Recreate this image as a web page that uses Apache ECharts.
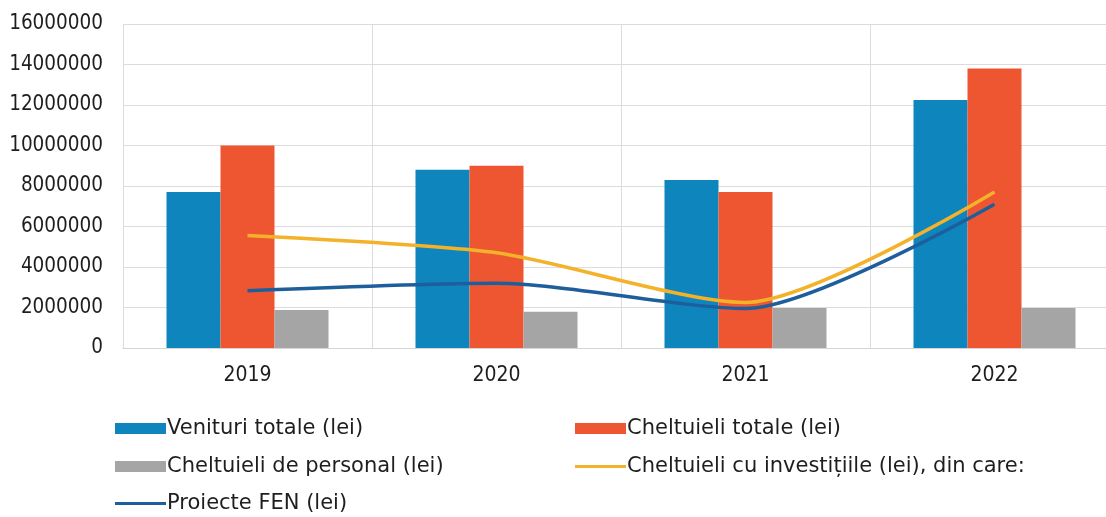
<!DOCTYPE html>
<html>
<head>
<meta charset="utf-8">
<script src="https://cdn.jsdelivr.net/npm/echarts@6/dist/echarts.min.js"></script>
<style>
  html, body { margin: 0; padding: 0; background: #fff; overflow: hidden; }
  /* the original plot runs a little past the right edge of the picture */
  #chart { width: 1120px; height: 517px; }
</style>
</head>
<body>
<div id="chart"></div>
<script>
var years = ['2019', '2020', '2021', '2022']
var venituri = [7700000, 8800000, 8300000, 12250000]
var cheltuieliTotale = [10000000, 9000000, 7700000, 13800000]
var cheltuieliPersonal = [1880000, 1790000, 1970000, 1970000]
var investitii = [5550000, 4700000, 2250000, 7700000]
var proiecteFEN = [2830000, 3200000, 1950000, 7100000]

var names = [
  'Venituri totale (lei)',
  'Cheltuieli totale (lei)',
  'Cheltuieli de personal (lei)',
  'Cheltuieli cu investițiile (lei), din care:',
  'Proiecte FEN (lei)'
]

var AXIS_FONT = 'DejaVu Sans Condensed'
var LEG_FONT = 'DejaVu Sans'
var TXT = '#1e1e1e'

// one legend per item, laid out in two columns like the original
function legendItem(name, left, top, isLine) {
  return {
    data: [name],
    left: left,
    top: top,
    icon: 'rect',
    itemWidth: 51,
    itemHeight: isLine ? 3 : 11,
    itemGap: 0,
    padding: 0,
    textStyle: { fontFamily: LEG_FONT, fontSize: 21, color: TXT, padding: [0, 0, 0, -4] }
  }
}

var chart = echarts.init(document.getElementById('chart'))
var option = {
  animation: false,
  backgroundColor: '#fff',
  grid: {
    left: 123,
    top: 24,
    width: 996,
    height: 324
  },
  legend: [
    legendItem(names[0], 115, 418, false),
    legendItem(names[1], 575, 418, false),
    legendItem(names[2], 115, 456, false),
    legendItem(names[3], 575, 456, true),
    legendItem(names[4], 115, 493, true)
  ],
  xAxis: {
    type: 'category',
    data: years,
    axisTick: { show: false },
    axisLine: { lineStyle: { color: '#d4d4d4' } },
    splitLine: { show: true, lineStyle: { color: '#dcdcdc' } },
    axisLabel: { fontFamily: AXIS_FONT, fontSize: 21, color: TXT, margin: 17 }
  },
  yAxis: {
    type: 'value',
    min: 0,
    max: 16000000,
    interval: 2000000,
    axisLine: { show: false },
    axisTick: { show: false },
    splitLine: { lineStyle: { color: '#dcdcdc' } },
    axisLabel: {
      fontFamily: AXIS_FONT,
      fontSize: 20.5,
      color: TXT,
      margin: 20,
      formatter: function(v) { return String(v) }
    }
  },
  series: [
    {
      name: names[0],
      type: 'bar',
      data: venituri,
      barWidth: 54,
      barGap: '0%',
      itemStyle: { color: '#0e86bd' }
    },
    {
      name: names[1],
      type: 'bar',
      data: cheltuieliTotale,
      barWidth: 54,
      barGap: '0%',
      itemStyle: { color: '#ee5631' }
    },
    {
      name: names[2],
      type: 'bar',
      data: cheltuieliPersonal,
      barWidth: 54,
      barGap: '0%',
      itemStyle: { color: '#a5a5a5' }
    },
    {
      name: names[3],
      type: 'line',
      data: investitii,
      smooth: 0.25,
      symbol: 'none',
      lineStyle: { color: '#f4b12a', width: 3.5 },
      itemStyle: { color: '#f4b12a' }
    },
    {
      name: names[4],
      type: 'line',
      data: proiecteFEN,
      smooth: 0.25,
      symbol: 'none',
      lineStyle: { color: '#1f5e9c', width: 3.5 },
      itemStyle: { color: '#1f5e9c' }
    }
  ]
}
chart.setOption(option)
</script>
</body>
</html>
